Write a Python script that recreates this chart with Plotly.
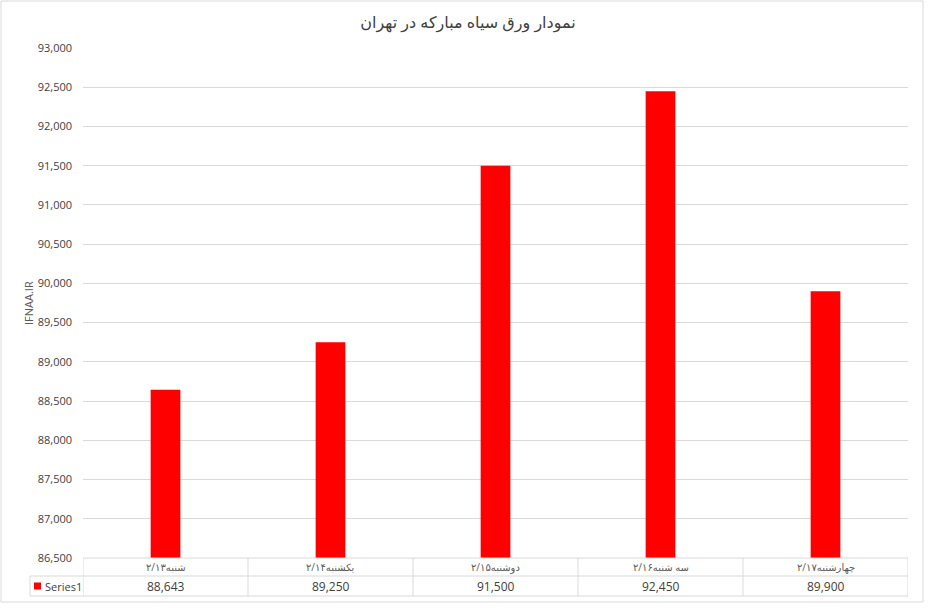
import plotly.graph_objects as go

categories = ["شنبه۲/۱۳", "یکشنبه۲/۱۴", "دوشنبه۲/۱۵", "سه شنبه۲/۱۶", "چهارشنبه۲/۱۷"]
values = [88643, 89250, 91500, 92450, 89900]
series_name = "Series1"
title_text = "نمودار ورق سیاه مبارکه در تهران"
y_title = "IFNAA.IR"

W, H = 936, 608
L, R, T, B = 83, 908, 48, 558
pw, ph = R - L, B - T

def px_x(p):
    return (p - L) / pw

def px_y(p):
    return (B - p) / ph

grid = "#d9d9d9"
txt = "#595959"
font = "Open Sans, DejaVu Sans, sans-serif"

fig = go.Figure()
fig.add_trace(go.Bar(x=categories, y=values, name=series_name,
                     marker=dict(color="#ff0000", line=dict(width=0)),
                     width=0.18, showlegend=False))

shapes = []
# outer border
shapes.append(dict(type="rect", xref="paper", yref="paper",
                   x0=px_x(1), x1=px_x(923), y0=px_y(602), y1=px_y(1),
                   line=dict(color=grid, width=1), layer="below"))
# table horizontal lines
for yy in [558, 576, 596]:
    x0 = px_x(30) if yy != 558 else 0
    shapes.append(dict(type="line", xref="paper", yref="paper",
                       x0=x0, x1=1, y0=px_y(yy), y1=px_y(yy),
                       line=dict(color=grid, width=1)))
# table vertical lines
n = len(categories)
for i in range(n + 1):
    shapes.append(dict(type="line", xref="x", yref="paper",
                       x0=i - 0.5, x1=i - 0.5, y0=px_y(596), y1=px_y(558),
                       line=dict(color=grid, width=1)))
shapes.append(dict(type="line", xref="paper", yref="paper",
                   x0=px_x(30), x1=px_x(30), y0=px_y(596), y1=px_y(576),
                   line=dict(color=grid, width=1)))
# legend key
shapes.append(dict(type="rect", xref="paper", yref="paper",
                   x0=px_x(34), x1=px_x(41), y0=px_y(589.5), y1=px_y(582.5),
                   fillcolor="#ff0000", line=dict(width=0)))

annotations = []
for c, v in zip(categories, values):
    annotations.append(dict(x=c, xref="x", y=px_y(567), yref="paper",
                            text=c, showarrow=False, yanchor="middle",
                            font=dict(size=10, color=txt, family=font)))
    annotations.append(dict(x=c, xref="x", y=px_y(586), yref="paper",
                            text=f"{v:,}", showarrow=False, yanchor="middle",
                            font=dict(size=12, color="#404040", family=font)))
annotations.append(dict(x=px_x(43), xref="paper", y=px_y(586), yref="paper",
                        text=series_name, showarrow=False, xanchor="left", yanchor="middle",
                        font=dict(size=11, color="#404040", family=font)))
annotations.append(dict(x=px_x(28), xref="paper", y=0.5, yref="paper",
                        text=y_title, showarrow=False, textangle=-90,
                        xanchor="center", yanchor="middle",
                        font=dict(size=11, color=txt, family=font)))

fig.update_layout(
    width=W, height=H,
    margin=dict(l=L, r=W - R, t=T, b=H - B),
    paper_bgcolor="white", plot_bgcolor="white",
    title=dict(text=title_text, x=px_x(468), xref="paper", xanchor="center",
               y=1 - 22 / H, yanchor="middle",
               font=dict(size=16, color="#404040", family=font)),
    xaxis=dict(range=[-0.5, n - 0.5], showticklabels=False, showgrid=False,
               zeroline=False, showline=False, ticks=""),
    yaxis=dict(range=[86500, 93000], dtick=500, tick0=86500, tickformat=",",
               showgrid=True, gridcolor=grid, gridwidth=1, zeroline=False,
               showline=False, ticks="", ticklabelstandoff=10,
               tickfont=dict(size=11, color="#404040", family=font)),
    shapes=shapes, annotations=annotations,
    font=dict(family=font),
)

fig.write_html("out.html", config={"displayModeBar": False},
               post_script="document.body.style.margin='0';document.body.style.overflow='hidden';")
